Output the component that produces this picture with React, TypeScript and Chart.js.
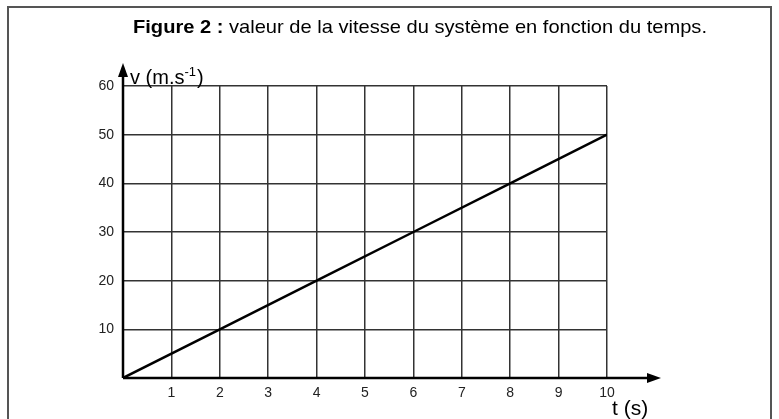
import React, { useEffect, useRef } from "react";
import { Chart, registerables } from "chart.js";

Chart.register(...registerables);

const times = [0, 2, 4, 6, 8, 10];
const speeds = [0, 10, 20, 30, 40, 50];
const xTicks = [0, 1, 2, 3, 4, 5, 6, 7, 8, 9, 10];
const yTicks = [0, 10, 20, 30, 40, 50, 60];
const titleBold = "Figure 2 :";
const titleRest = " valeur de la vitesse du système en fonction du temps.";
const yTitle = "v (m.s";
const ySup = "-1";
const xTitle = "t (s)";

const FONT = "'Liberation Sans', Arial, sans-serif";

const decor = {
  id: "decor",
  beforeDraw(chart: any) {
    const ctx = chart.ctx;
    ctx.save();
    ctx.fillStyle = "#fff";
    ctx.fillRect(0, 0, chart.width, chart.height);
    ctx.restore();
  },
  afterDraw(chart: any) {
    const ctx = chart.ctx;
    const xs = chart.scales.x;
    const ys = chart.scales.y;
    const x0 = xs.getPixelForValue(0);
    const y0 = ys.getPixelForValue(0);
    ctx.save();
    // frame
    ctx.strokeStyle = "#555";
    ctx.lineWidth = 2;
    ctx.beginPath();
    ctx.moveTo(8, 430);
    ctx.lineTo(8, 7);
    ctx.lineTo(771, 7);
    ctx.lineTo(771, 430);
    ctx.stroke();
    // axes
    ctx.strokeStyle = "#000";
    ctx.fillStyle = "#000";
    ctx.lineWidth = 2.5;
    ctx.beginPath();
    ctx.moveTo(x0, y0);
    ctx.lineTo(650, y0);
    ctx.moveTo(x0, y0);
    ctx.lineTo(x0, 74);
    ctx.stroke();
    ctx.beginPath();
    ctx.moveTo(661, y0);
    ctx.lineTo(647, y0 - 5);
    ctx.lineTo(647, y0 + 5);
    ctx.closePath();
    ctx.fill();
    ctx.beginPath();
    ctx.moveTo(x0, 63);
    ctx.lineTo(x0 - 5, 77);
    ctx.lineTo(x0 + 5, 77);
    ctx.closePath();
    ctx.fill();
    // title, fitted to span 133..707
    ctx.textBaseline = "alphabetic";
    ctx.textAlign = "left";
    const fs = 19;
    ctx.font = `bold ${fs}px ${FONT}`;
    const wb = ctx.measureText(titleBold).width;
    ctx.font = `${fs}px ${FONT}`;
    const wr = ctx.measureText(titleRest).width;
    const sx = 574 / (wb + wr);
    ctx.save();
    ctx.translate(133, 33);
    ctx.scale(sx, 1);
    ctx.font = `bold ${fs}px ${FONT}`;
    ctx.fillText(titleBold, 0, 0);
    ctx.font = `${fs}px ${FONT}`;
    ctx.fillText(titleRest, wb, 0);
    ctx.restore();
    // y title
    ctx.font = `20px ${FONT}`;
    ctx.fillText(yTitle, 130, 84);
    const w1 = ctx.measureText(yTitle).width;
    ctx.font = `13px ${FONT}`;
    ctx.fillText(ySup, 130 + w1, 76);
    const w2 = ctx.measureText(ySup).width;
    ctx.font = `20px ${FONT}`;
    ctx.fillText(")", 130 + w1 + w2 + 1, 84);
    // x title
    ctx.font = `21px ${FONT}`;
    ctx.fillText(xTitle, 612, 415);
    ctx.restore();
  },
};

export default function App() {
  const ref = useRef<HTMLCanvasElement>(null);
  useEffect(() => {
    if (!ref.current) return;
    const chart = new Chart(ref.current, {
      type: "scatter",
      data: {
        datasets: [
          {
            data: times.map((t, i) => ({ x: t, y: speeds[i] })),
            showLine: true,
            borderColor: "#000",
            borderWidth: 2.5,
            pointRadius: 0,
            fill: false,
          },
        ],
      },
      options: {
        responsive: false,
        animation: false,
        devicePixelRatio: 1,
        layout: { padding: { left: 0, top: 86, right: 172, bottom: 0 } },
        plugins: { legend: { display: false }, tooltip: { enabled: false } },
        scales: {
          x: {
            type: "linear",
            min: 0,
            max: 10,
            afterFit(scale: any) {
              scale.height = 41;
            },
            afterBuildTicks(scale: any) {
              scale.ticks = xTicks.map((v) => ({ value: v }));
            },
            border: { display: false },
            grid: { color: "#333", lineWidth: 1.5, drawTicks: false },
            ticks: {
              padding: 7,
              color: "#222",
              font: { family: FONT, size: 14 },
              callback: (v: any) => (v === 0 ? "" : String(v)),
            },
          },
          y: {
            type: "linear",
            min: 0,
            max: 60,
            afterFit(scale: any) {
              scale.width = 123;
            },
            afterBuildTicks(scale: any) {
              scale.ticks = yTicks.map((v) => ({ value: v }));
            },
            border: { display: false },
            grid: { color: "#333", lineWidth: 1.5, drawTicks: false },
            ticks: {
              padding: 9,
              color: "#222",
              font: { family: FONT, size: 14 },
              callback: (v: any) => (v === 0 ? "" : String(v)),
            },
          },
        },
      },
      plugins: [decor],
    } as any);
    return () => chart.destroy();
  }, []);
  return (
    <div style={{ position: "fixed", left: 0, top: 0, width: 779, height: 419 }}>
      <canvas ref={ref} width={779} height={419} style={{ width: 779, height: 419 }} />
    </div>
  );
}
